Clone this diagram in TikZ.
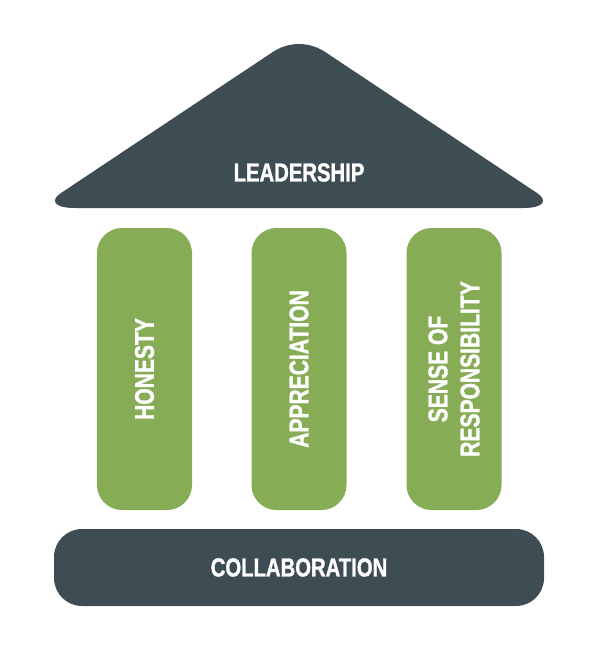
\documentclass[tikz,border=0pt]{standalone}
\usepackage{fontspec}
\newfontfamily\condfont[FakeStretch=0.78, BoldFont={Liberation Sans Bold}, BoldFeatures={FakeBold=1.2}]{Liberation Sans}
\definecolor{slate}{RGB}{62,77,84}
\definecolor{leaf}{RGB}{134,172,85}
\tikzset{
  labeltext/.style={text=white, inner sep=0pt, align=center,
    font=\condfont\bfseries\fontsize{26}{32}\selectfont},
  pillar/.style={fill=leaf, draw=none, rounded corners=25pt, rotate=90,
    minimum width=282pt, minimum height=95pt, inner sep=0pt, text=white, align=center,
    font=\condfont\bfseries\fontsize{27}{32}\selectfont},
  basebar/.style={fill=slate, draw=none, rounded corners=28pt,
    minimum width=490pt, minimum height=77pt, inner sep=0pt, text=white,
    font=\condfont\bfseries\fontsize{26}{32}\selectfont},
}
\begin{document}
\begin{tikzpicture}[x=1pt,y=-1pt]
\useasboundingbox (0,0) rectangle (600,650);
% roof
\fill[slate] (75,208) .. controls (52,208) and (51,199.5) .. (61,193)
  -- (273.4,51.6) .. controls (289,41.5) and (309,41.5) .. (324.6,51.6)
  -- (537,193) .. controls (547,199.5) and (546,208) .. (523,208) -- cycle;
\node[labeltext] (roof) at (299,172.5) {LEADERSHIP};
% pillars
\node[pillar] (p1) at (144.5,369) {HONESTY};
\node[pillar] (p2) at (299,369) {APPRECIATION};
\node[pillar] (p3) at (454,369) {SENSE OF\\RESPONSIBILITY};
% base
\node[basebar] (base) at (299,567.5) {COLLABORATION};
\end{tikzpicture}
\end{document}
